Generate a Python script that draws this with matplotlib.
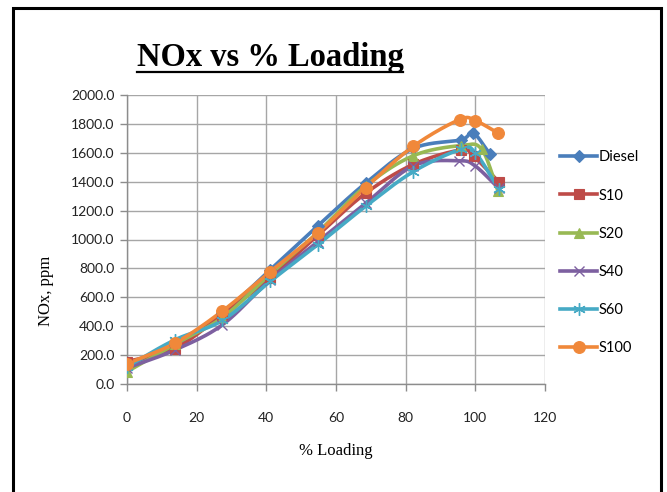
import numpy as np
import matplotlib
matplotlib.use("Agg")
import matplotlib.pyplot as plt
from matplotlib.patches import Rectangle
from matplotlib.lines import Line2D

# ---- data ----
series_names = ["Diesel", "S10", "S20", "S40", "S60", "S100"]

x_diesel = [0, 13.7, 27.4, 41.1, 54.8, 68.5, 82.2, 95.9, 99.3, 104.1]
y_diesel = [130, 270, 490, 790, 1095, 1390, 1630, 1690, 1740, 1595]

x_s10 = [0, 13.7, 27.4, 41.1, 54.8, 68.5, 82.2, 95.9, 99.5, 106.7]
y_s10 = [155, 245, 480, 735, 1030, 1320, 1520, 1620, 1575, 1400]

x_s20 = [0, 13.7, 27.4, 41.1, 54.8, 68.5, 82.2, 95.9, 101.8, 106.5]
y_s20 = [85, 275, 460, 760, 1050, 1370, 1580, 1650, 1625, 1335]

x_s40 = [0, 13.7, 27.4, 41.1, 54.8, 68.5, 82.2, 95.2, 99.9, 106.7]
y_s40 = [110, 235, 410, 720, 985, 1250, 1510, 1545, 1510, 1355]

x_s60 = [0, 13.7, 27.4, 41.1, 54.8, 68.5, 82.2, 95.9, 100.0, 106.7]
y_s60 = [120, 305, 440, 710, 965, 1230, 1470, 1625, 1600, 1350]

x_s100 = [0, 13.7, 27.4, 41.1, 54.8, 68.5, 82.2, 95.5, 100.0, 106.5]
y_s100 = [140, 282, 505, 777, 1045, 1359, 1645, 1830, 1822, 1737]

x_ticks = [0, 20, 40, 60, 80, 100, 120]
y_ticks = [0, 200, 400, 600, 800, 1000, 1200, 1400, 1600, 1800, 2000]

colors = ["#4A7EBB", "#BE4B48", "#98B954", "#7D60A0", "#46AAC5", "#F0883A"]
markers = ["D", "s", "^", "x", (6, 2, 0), "o"]
msizes = [6.5, 7, 7.5, 7, 9, 8.5]

xs = [x_diesel, x_s10, x_s20, x_s40, x_s60, x_s100]
ys = [y_diesel, y_s10, y_s20, y_s40, y_s60, y_s100]


def smooth(x, y, n=20):
    """Bezier smoothing similar to Excel smoothed lines."""
    x = np.asarray(x, float)
    y = np.asarray(y, float)
    px = np.concatenate([[2 * x[0] - x[1]], x, [2 * x[-1] - x[-2]]])
    py = np.concatenate([[2 * y[0] - y[1]], y, [2 * y[-1] - y[-2]]])
    outx, outy = [], []
    t = np.linspace(0, 1, n, endpoint=False)
    for i in range(1, len(px) - 2):
        p0x, p1x, p2x, p3x = px[i - 1:i + 3]
        p0y, p1y, p2y, p3y = py[i - 1:i + 3]
        c1x = p1x + (p2x - p0x) / 6
        c1y = p1y + (p2y - p0y) / 6
        c2x = p2x - (p3x - p1x) / 6
        c2y = p2y - (p3y - p1y) / 6
        bx = (1 - t) ** 3 * p1x + 3 * (1 - t) ** 2 * t * c1x + 3 * (1 - t) * t ** 2 * c2x + t ** 3 * p2x
        by = (1 - t) ** 3 * p1y + 3 * (1 - t) ** 2 * t * c1y + 3 * (1 - t) * t ** 2 * c2y + t ** 3 * p2y
        outx.extend(bx)
        outy.extend(by)
    outx.append(x[-1])
    outy.append(y[-1])
    return np.array(outx), np.array(outy)


fig = plt.figure(figsize=(6.67, 4.92), dpi=100)
fig.patch.set_facecolor("white")

L, R, T, B = 127, 545, 95, 384
ax = fig.add_axes([L / 667, 1 - B / 492, (R - L) / 667, (B - T) / 492])

tickfont = "Lato"
grid_c = "#A6A6A6"

handles = []
for name, x, y, c, m, ms in zip(series_names, xs, ys, colors, markers, msizes):
    sx, sy = smooth(x, y)
    ax.plot(sx, sy, color=c, lw=2.6, solid_capstyle="round", zorder=3)
    thin = m in ("x",) or isinstance(m, tuple)
    ax.plot(x, y, linestyle="none", marker=m, markersize=ms, color=c,
            markeredgecolor=c, markeredgewidth=1.0 if thin else 0.8, zorder=4)
    handles.append(Line2D([0], [0], color=c, lw=2.6, marker=m, markersize=ms,
                          markeredgecolor=c, markeredgewidth=1.0 if thin else 0.8))

ax.set_xlim(0, 120)
ax.set_ylim(0, 2000)
ax.set_xticks(x_ticks)
ax.set_yticks(y_ticks)
ax.set_xticklabels([str(v) for v in x_ticks], fontsize=10, family=tickfont, color="#222222")
ax.set_yticklabels([f"{v:.1f}" for v in y_ticks], fontsize=10, family=tickfont, color="#222222")
ax.grid(True, color=grid_c, lw=1.0, zorder=0)
ax.set_axisbelow(True)
for s in ["top", "right"]:
    ax.spines[s].set_visible(False)
for s in ["left", "bottom"]:
    ax.spines[s].set_color("#8C8C8C")
    ax.spines[s].set_linewidth(1.0)
ax.tick_params(axis="both", direction="out", length=5, width=1.0, color="#8C8C8C", pad=4)
ax.tick_params(axis="x", pad=15)

ax.set_xlabel("% Loading", family="Liberation Serif", fontsize=12, labelpad=14)
fig.text(46 / 667, 1 - 291 / 492, "NOx, ppm", family="Liberation Serif", fontsize=12,
         rotation=90, ha="center", va="center")

leg = fig.legend(handles, series_names, loc="upper left",
                 bbox_to_anchor=(553 / 667, 1 - 143 / 492), frameon=False,
                 prop={"family": tickfont, "size": 10.5}, handlelength=2.5,
                 handletextpad=0.15, labelspacing=1.66, borderpad=0)

title = fig.text(270 / 667, 1 - 66 / 492, "NOx vs % Loading", family="Liberation Serif",
                 fontweight="bold", fontsize=23.5, ha="center", va="baseline")
# underline
fig.add_artist(Line2D([137 / 667, 403 / 667], [1 - 71.5 / 492, 1 - 71.5 / 492],
                      color="black", lw=1.6, transform=fig.transFigure))

# outer frame
fig.add_artist(Rectangle((13 / 667, -0.05), (661 - 13) / 667, (1 - 8 / 492) + 0.05,
                         fill=False, edgecolor="black", lw=2.2, transform=fig.transFigure))

fig.savefig("out.png", dpi=100)
